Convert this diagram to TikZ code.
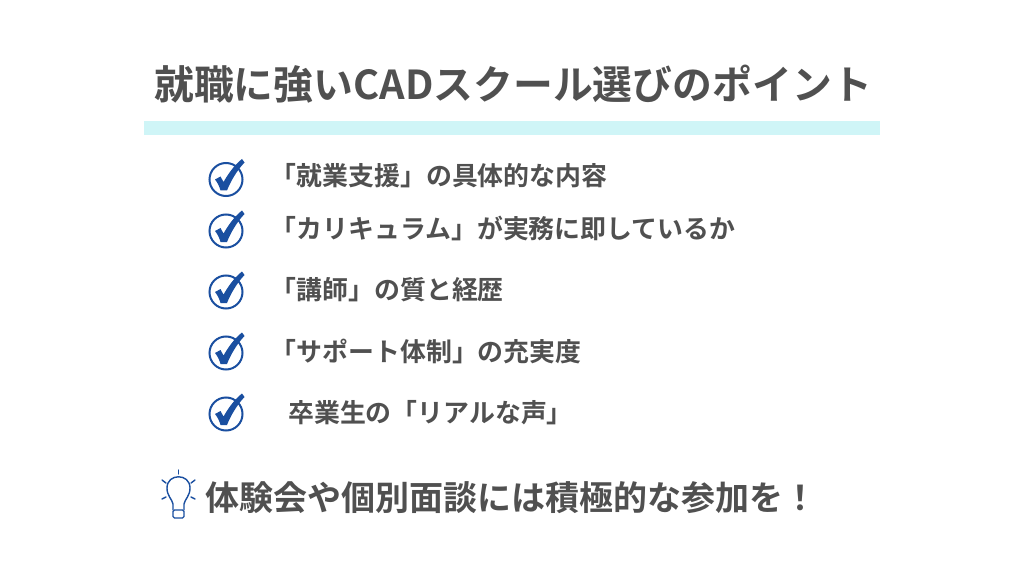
\documentclass[tikz,border=0pt]{standalone}
\usepackage{fontspec}
\setmainfont{Noto Sans CJK JP}[BoldFont={* Bold}]
\definecolor{inkgray}{HTML}{505050}
\definecolor{bandcyan}{HTML}{CFF5F7}
\definecolor{checkblue}{HTML}{1A4FA0}
\begin{document}
\begin{tikzpicture}[x=1pt,y=-1pt]
        \tikzstyle{title}=[anchor=west,inner sep=0pt,text=inkgray,font=\bfseries\fontsize{39.85}{40}\selectfont]
        \tikzstyle{point}=[anchor=west,inner sep=0pt,text=inkgray,font=\bfseries\fontsize{25.9}{26}\selectfont]
        \tikzstyle{closing}=[anchor=west,inner sep=0pt,text=inkgray,font=\bfseries\fontsize{34}{34}\selectfont]
        \tikzset{
          checkmark/.pic={
            \draw [checkblue,line width=2pt] (0,0) circle (16.5);
            \fill [checkblue] (-11,0) -- (-5.5,-3) -- (-2.5,2.5) .. controls (3,-7) and (9,-15) .. (16,-20.5)
              -- (18.5,-17) .. controls (11,-9) and (5,1) .. (1,11) -- (-5.5,11) .. controls (-6.5,7) and (-8.5,3) .. (-11,0) -- cycle;
          }
        }
        \useasboundingbox (0,0) rectangle (1024,577);
        \fill [white] (0,0) rectangle (1024,577);
        \node [title] (heading) at (154,84) {就職に強いCADスクール選びのポイント};
        \fill [bandcyan] (144,121) rectangle (880,135);
        \pic at (226,179.5) {checkmark};
        \pic at (226,231) {checkmark};
        \pic at (226,292) {checkmark};
        \pic at (226,353) {checkmark};
        \pic at (226,414) {checkmark};
        \node [point] (p1) at (270.5,176) {「就業支援」の具体的な内容};
        \node [point] (p2) at (270.5,228) {「カリキュラム」が実務に即しているか};
        \node [point] (p3) at (270.5,290) {「講師」の質と経歴};
        \node [point] (p4) at (270.5,351) {「サポート体制」の充実度};
        \node [point] (p5) at (288,413) {卒業生の「リアルな声」};
        % lightbulb
        \begin{scope}[checkblue,line width=1.4pt,line cap=round]
           \draw (173,510) -- (173,504) .. controls (172,499) and (167,496) .. (167,488)
              .. controls (167,473) and (190,473) .. (190,488) .. controls (190,496) and (185,499) .. (184,504) -- (184,510);
           \draw [rounded corners=1.5pt] (173,510) rectangle (184,518);
           \draw (178.5,470) -- (178.5,474);
           \draw (162,480) -- (166,483);
           \draw (195,480) -- (191,483);
           \draw (162,499) -- (166,497);
           \draw (195,499) -- (191,497);
        \end{scope}
        \node [closing] (closing) at (205,498) {体験会や個別面談には積極的な参加を！};
\end{tikzpicture}
\end{document}
